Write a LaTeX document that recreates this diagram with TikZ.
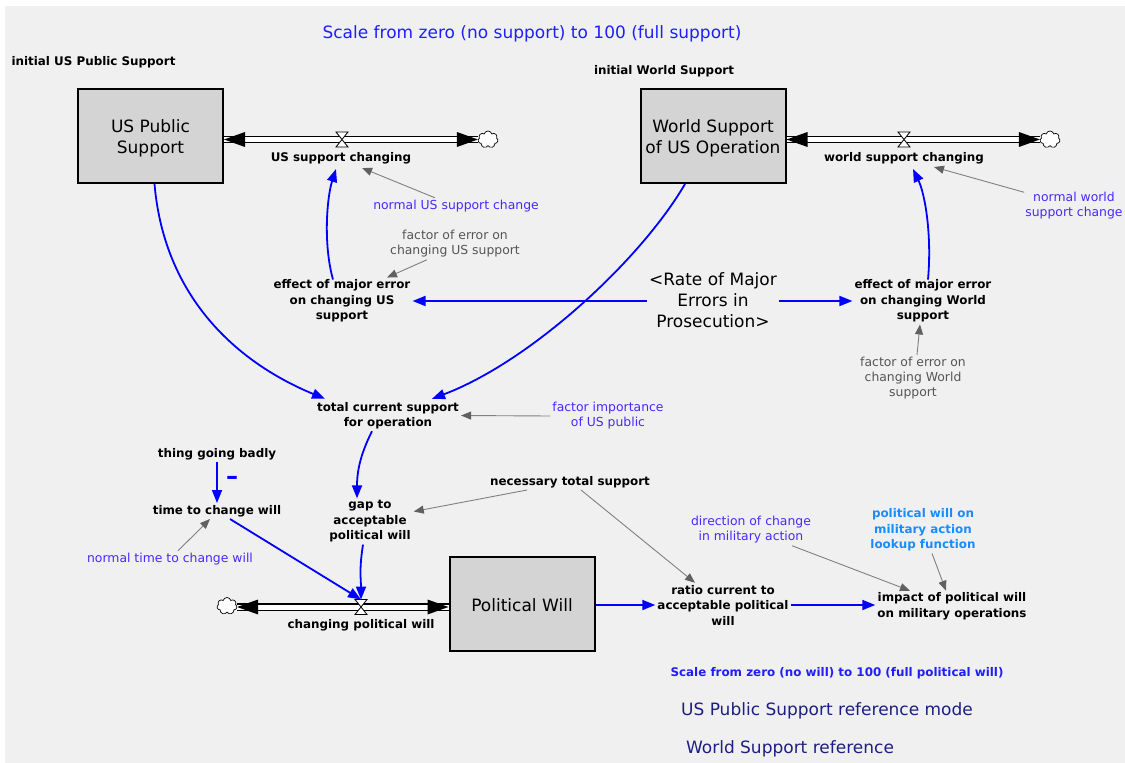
\documentclass[tikz,border=0pt]{standalone}
\usepackage{fontspec}
\setmainfont{DejaVu Sans}
\usetikzlibrary{arrows.meta,calc,shapes.symbols}
\definecolor{bgc}{RGB}{240,240,240}
\definecolor{stockc}{RGB}{212,212,212}
\definecolor{linkc}{RGB}{0,0,255}
\definecolor{lbc}{RGB}{72,40,255}
\definecolor{grt}{RGB}{85,85,85}
\definecolor{glc}{RGB}{128,128,128}
\definecolor{ghc}{RGB}{96,96,96}
\definecolor{titc}{RGB}{30,30,255}
\definecolor{lkc}{RGB}{25,140,255}
\definecolor{navc}{RGB}{30,30,130}
\begin{document}
\begin{tikzpicture}[x=1pt,y=-1pt,
  bl/.style={font=\fontsize{11.9}{15.5}\selectfont\bfseries, align=center, inner sep=2pt, text=black},
  lb/.style={font=\fontsize{12.4}{15}\selectfont, align=center, inner sep=2pt, text=lbc},
  gl/.style={font=\fontsize{12.4}{15}\selectfont, align=center, inner sep=2pt, text=grt},
  big/.style={font=\fontsize{17}{21}\selectfont, align=center, inner sep=2pt},
  stock/.style={draw, line width=2pt, fill=stockc, minimum width=145pt, minimum height=94pt, inner sep=0pt},
  stocktext/.style={font=\fontsize{17}{21}\selectfont, align=center, inner sep=0pt},
  valve/.style={minimum width=12pt, minimum height=15pt, inner sep=0pt, outer sep=0pt},
  valveline/.style={draw=black, fill=white, line width=0.8pt},
  cloudy/.style={cloud, cloud puffs=7, draw, fill=white, minimum width=20pt, minimum height=17pt, inner sep=0pt, line width=0.7pt},
  pipe/.style={draw=black, line width=1.4pt, double=white, double distance=5pt},
  link/.style={draw=linkc, line width=1.8pt, -{Triangle[length=13pt,width=10pt]}},
  glink/.style={draw=glc, line width=0.9pt, -{Triangle[length=10pt,width=8pt,color=ghc]}}
]
\useasboundingbox (0,0) rectangle (1125,763);
\fill[bgc] (5,6) rectangle (1125,763);

% texts at top
\node[big, text=titc] (title) at (532,34) {Scale from zero (no support) to 100 (full support)};
\node[bl] (initUS) at (93.5,62) {initial US Public Support};
\node[bl] (initW) at (664,71.5) {initial World Support};

% stocks
\node[stock] (USPS) at (150.5,136) {};
\node[stocktext] (USPSt) at ($(USPS.center)+(0,2.5)$) {US Public\\Support};
\node[stock] (WS) at (713,136) {};
\node[stocktext] (WSt) at ($(WS.center)+(0,2.5)$) {World Support\\of US Operation};
\node[stock] (PW) at (522,603.5) {};
\node[stocktext] (PWt) at ($(PW.center)+(0,2)$) {Political Will};

% valves and clouds
\node[valve] (v1) at (342,139.5) {};
\node[valve] (v2) at (904,139.5) {};
\node[valve] (v3) at (361,607) {};
\node[cloudy] (c1) at (488,139.5) {};
\node[cloudy] (c2) at (1050,139.5) {};
\node[cloudy] (c3) at (227,606) {};

% pipes
\draw[pipe] (USPS.east |- v1) -- (c1.west |- v1);
\fill (USPS.east |- v1) -- ++(21,-7.5) -- ++(0,15) -- cycle;
\fill (c1.west |- v1) -- ++(-21,-7.5) -- ++(0,15) -- cycle;
\draw[valveline] (v1.north west) -- (v1.north east) -- (v1.south west) -- (v1.south east) -- cycle;

\draw[pipe] (WS.east |- v2) -- (c2.west |- v2);
\fill (WS.east |- v2) -- ++(21,-7.5) -- ++(0,15) -- cycle;
\fill (c2.west |- v2) -- ++(-21,-7.5) -- ++(0,15) -- cycle;
\draw[valveline] (v2.north west) -- (v2.north east) -- (v2.south west) -- (v2.south east) -- cycle;

\draw[pipe] (c3.east |- v3) -- (PW.west |- v3);
\fill (c3.east |- v3) -- ++(21,-7.5) -- ++(0,15) -- cycle;
\fill (PW.west |- v3) -- ++(-21,-7.5) -- ++(0,15) -- cycle;
\draw[valveline] (v3.north west) -- (v3.north east) -- (v3.south west) -- (v3.south east) -- cycle;

% flow labels
\node[bl] (lblUS) at (341,158) {US support changing};
\node[bl] (lblW) at (904,158) {world support changing};
\node[bl] (lblPW) at (361,625) {changing political will};

% auxiliaries
\node[lb] (normUS) at (456,206) {normal US support change};
\node[lb] (normW) at (1074,206) {normal world\\support change};
\node[gl] (factUS) at (455,244) {factor of error on\\changing US support};
\node[bl] (effUS) at (342,301) {effect of major error\\on changing US\\support};
\node[big] (rate) at (713,300) {<Rate of Major\\Errors in\\Prosecution>};
\node[bl] (effW) at (923,301) {effect of major error\\on changing World\\support};
\node[gl] (factW) at (913,378) {factor of error on\\changing World\\support};
\node[bl] (total) at (388,415.5) {total current support\\for operation};
\node[lb] (factImp) at (608,416) {factor importance\\of US public};
\node[bl] (thing) at (217,454) {thing going badly};
\node[text=linkc, inner sep=0pt, anchor=base, font=\fontsize{24}{24}\selectfont\bfseries] (minus) at (232,484) {–};
\node[bl] (time) at (217,511) {time to change will};
\node[lb] (normTime) at (170,559) {normal time to change will};
\node[bl] (gap) at (370,521.5) {gap to\\acceptable\\political will};
\node[bl] (necessary) at (570,482) {necessary total support};
\node[lb] (direction) at (751,530) {direction of change\\in military action};
\node[bl, text=lkc] (lookup) at (923,530) {political will on\\military action\\lookup function};
\node[bl] (ratio) at (723,605) {ratio current to\\acceptable political\\will};
\node[bl] (impact) at (952,606.5) {impact of political will\\on military operations};
\node[bl, text=titc] (scale2) at (837,673) {Scale from zero (no will) to 100 (full political will)};
\node[big, text=navc] (ref1) at (827,711) {US Public Support reference mode};
\node[big, text=navc] (ref2) at (790,749) {World Support reference};

% blue links
\draw[link] ($(effUS.north)+(-9,2)$) .. controls +(-10,-36) and +(-9,28) .. ($(lblUS.south)+(-5,3)$);
\draw[link] ($(effW.north)+(5,2)$) .. controls +(4,-45) and +(12,25) .. ($(lblW.south)+(9,3)$);
\draw[link] (rate.west |- effUS) -- (effUS.east);
\draw[link] (rate.east |- effW) -- (effW.west);
\draw[link] ($(USPS.south)+(4,0)$) .. controls +(10,116) and +(-85,-35) .. ($(total.north)+(-63,-1)$);
\draw[link] ($(WS.south)+(-28,0)$) .. controls +(-45,77) and +(98,-37) .. ($(total.north)+(44,-1)$);
\draw[link] ($(total.south)+(-16,0)$) .. controls +(-10,20) and +(0,-30) .. ($(gap.north)+(-13,0)$);
\draw[link] (thing.south) -- (time.north);
\draw[link] ($(time.south)+(13,0)$) -- (v3.north);
\draw[link] ($(gap.south)+(-7,0)$) .. controls +(-4,25) and +(0,-20) .. (v3.north);
\draw[link] (PW.east |- ratio) -- (ratio.west);
\draw[link] (ratio.east) -- (impact.west |- ratio);

% gray links
\draw[glink] ($(normUS.north)+(-21,0)$) -- ($(lblUS.south)+(21,2)$);
\draw[glink] ($(normW.north west)+(1,2)$) -- ($(lblW.south)+(30,1)$);
\draw[glink] ($(factUS.south)+(-28,0)$) -- ($(effUS.north)+(45,0)$);
\draw[glink] ($(factW.north)+(4,0)$) -- ($(effW.south)+(-3,0)$);
\draw[glink] (factImp.west) -- (total.east);
\draw[glink] ($(necessary.south)+(-43,0)$) -- ($(gap.east)+(1,-10)$);
\draw[glink] ($(necessary.south)+(11,0)$) -- ($(ratio.north)+(-28,0)$);
\draw[glink] ($(normTime.north)+(8,0)$) -- ($(time.south)+(-7,0)$);
\draw[glink] ($(direction.south)+(41,0)$) -- ($(impact.north)+(-42,0)$);
\draw[glink] ($(lookup.south)+(9,0)$) -- ($(impact.north)+(-6,0)$);
\end{tikzpicture}
\end{document}
